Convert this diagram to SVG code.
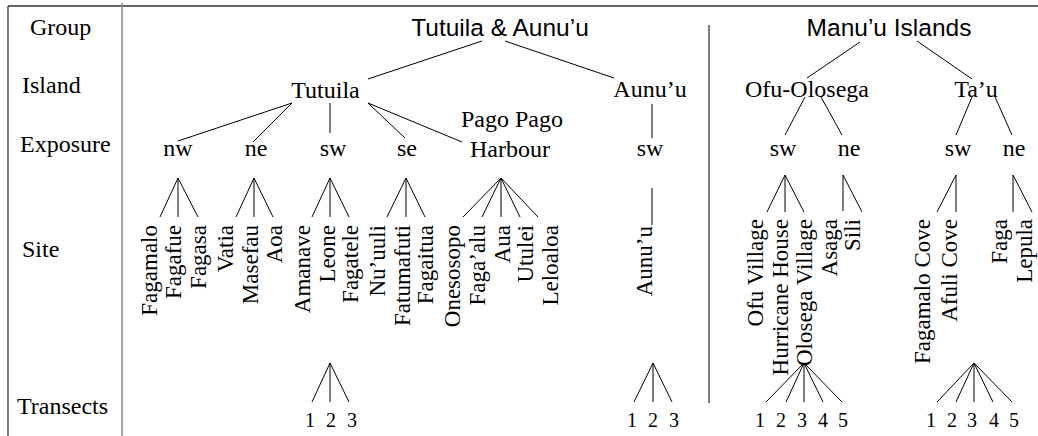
<svg xmlns="http://www.w3.org/2000/svg" width="1038" height="436" viewBox="0 0 1038 436">
<style>
.s{font-family:"Liberation Serif","Times New Roman",serif;font-size:24px;fill:#000}
.h{font-family:"Liberation Sans",Arial,sans-serif;font-size:24.5px;fill:#000;text-anchor:middle}
.n{text-anchor:middle}
.site{font-family:"Liberation Serif","Times New Roman",serif;font-size:23px;fill:#000;text-anchor:end}
.t{font-family:"Liberation Serif","Times New Roman",serif;font-size:20px;fill:#000;text-anchor:middle}
.c line{stroke:#000;stroke-width:1}
</style>
<rect width="1038" height="436" fill="#fff"/>
<g id="frame">
<line x1="8" y1="6" x2="1038" y2="6" stroke="#333" stroke-width="1.3"/>
<line x1="8" y1="6" x2="8" y2="436" stroke="#333" stroke-width="1.3"/>
<line x1="122" y1="3" x2="122" y2="436" stroke="#888" stroke-width="1.5"/>
<line x1="709" y1="25" x2="709" y2="403" stroke="#222" stroke-width="1.2"/>
</g>
<g id="row-labels" class="s">
<text x="30" y="35">Group</text>
<text x="22" y="93">Island</text>
<text x="20" y="152">Exposure</text>
<text x="22" y="257">Site</text>
<text x="17" y="414">Transects</text>
</g>
<g id="group-tutuila-aunuu"><text class="h" x="500" y="36">Tutuila &amp; Aunu’u</text></g>
<g id="group-manua"><text class="h" x="889" y="36">Manu’u Islands</text></g>
<g id="island-tutuila"><text class="s n" x="325.5" y="98">Tutuila</text></g>
<g id="island-aunuu"><text class="s n" x="650" y="97">Aunu’u</text></g>
<g id="island-ofu"><text class="s n" x="807" y="97">Ofu-Olosega</text></g>
<g id="island-tau"><text class="s n" x="976" y="97">Ta’u</text></g>
<g id="exp-nw"><text class="s n" x="178" y="156">nw</text></g>
<g id="exp-ne"><text class="s n" x="256" y="156">ne</text></g>
<g id="exp-sw"><text class="s n" x="333" y="156">sw</text></g>
<g id="exp-se"><text class="s n" x="407" y="156">se</text></g>
<g id="exp-harbour"><text class="s n" x="512" y="127">Pago Pago</text><text class="s n" x="510" y="157">Harbour</text></g>
<g id="exp-aunuu-sw"><text class="s n" x="650" y="156">sw</text></g>
<g id="exp-ofu-sw"><text class="s n" x="783" y="156">sw</text></g>
<g id="exp-ofu-ne"><text class="s n" x="849" y="156">ne</text></g>
<g id="exp-tau-sw"><text class="s n" x="958" y="156">sw</text></g>
<g id="exp-tau-ne"><text class="s n" x="1014" y="156">ne</text></g>
<g id="sites" class="site">
<text transform="translate(157,225) rotate(-90)">Fagamalo</text>
<text transform="translate(181,225) rotate(-90)">Fagafue</text>
<text transform="translate(206,225) rotate(-90)">Fagasa</text>
<text transform="translate(233,225) rotate(-90)">Vatia</text>
<text transform="translate(258,225) rotate(-90)">Masefau</text>
<text transform="translate(282,225) rotate(-90)">Aoa</text>
<text transform="translate(310,225) rotate(-90)">Amanave</text>
<text transform="translate(335,225) rotate(-90)">Leone</text>
<text transform="translate(358,225) rotate(-90)">Fagatele</text>
<text transform="translate(385,225) rotate(-90)">Nu’uuli</text>
<text transform="translate(410,225) rotate(-90)">Fatumafuti</text>
<text transform="translate(433,225) rotate(-90)">Fagaitua</text>
<text transform="translate(460,225) rotate(-90)">Onesosopo</text>
<text transform="translate(485,225) rotate(-90)">Faga’alu</text>
<text transform="translate(510,225) rotate(-90)">Aua</text>
<text transform="translate(533,225) rotate(-90)">Utulei</text>
<text transform="translate(558,225) rotate(-90)">Leloaloa</text>
<text transform="translate(652,226) rotate(-90)">Aunu’u</text>
<text transform="translate(763,219) rotate(-90)">Ofu Village</text>
<text transform="translate(788,219) rotate(-90)">Hurricane House</text>
<text transform="translate(812,219) rotate(-90)">Olosega Village</text>
<text transform="translate(837,219) rotate(-90)">Asaga</text>
<text transform="translate(860,219) rotate(-90)">Sili</text>
<text transform="translate(930,219) rotate(-90)">Fagamalo Cove</text>
<text transform="translate(957,219) rotate(-90)">Afuli Cove</text>
<text transform="translate(1007,219) rotate(-90)">Faga</text>
<text transform="translate(1032,219) rotate(-90)">Lepula</text>
</g>
<g id="transects" class="t">
<text x="310" y="427">1</text><text x="331" y="427">2</text><text x="352" y="427">3</text>
<text x="632" y="427">1</text><text x="653" y="427">2</text><text x="674" y="427">3</text>
<text x="760" y="427">1</text><text x="781" y="427">2</text><text x="802" y="427">3</text><text x="823" y="427">4</text><text x="843" y="427">5</text>
<text x="931" y="427">1</text><text x="952" y="427">2</text><text x="972" y="427">3</text><text x="994" y="427">4</text><text x="1014" y="427">5</text>
</g>
<g id="connectors" class="c">
<line x1="482" y1="41" x2="368" y2="79"/>
<line x1="505" y1="41" x2="614" y2="78"/>
<line x1="860" y1="42" x2="807" y2="78"/>
<line x1="917" y1="41" x2="972" y2="79"/>
<line x1="292" y1="103" x2="178" y2="141"/>
<line x1="292" y1="103" x2="253" y2="142"/>
<line x1="330" y1="103" x2="330" y2="133"/>
<line x1="368" y1="103" x2="405" y2="138"/>
<line x1="368" y1="103" x2="462" y2="142"/>
<line x1="652" y1="104" x2="652" y2="138"/>
<line x1="805" y1="97" x2="785" y2="135"/>
<line x1="821" y1="97" x2="842" y2="135"/>
<line x1="972" y1="97" x2="956" y2="135"/>
<line x1="995" y1="97" x2="1012" y2="135"/>
<line x1="178" y1="178" x2="160" y2="217"/><line x1="178" y1="178" x2="178" y2="217"/><line x1="178" y1="178" x2="198" y2="217"/>
<line x1="254" y1="178" x2="236" y2="217"/><line x1="254" y1="178" x2="254" y2="217"/><line x1="254" y1="178" x2="273" y2="217"/>
<line x1="330" y1="178" x2="312" y2="217"/><line x1="330" y1="178" x2="330" y2="217"/><line x1="330" y1="178" x2="349" y2="217"/>
<line x1="406" y1="178" x2="387" y2="217"/><line x1="406" y1="178" x2="406" y2="217"/><line x1="406" y1="178" x2="425" y2="217"/>
<line x1="501" y1="178" x2="463" y2="217"/><line x1="501" y1="178" x2="482" y2="217"/><line x1="501" y1="178" x2="501" y2="217"/><line x1="501" y1="178" x2="520" y2="217"/><line x1="501" y1="178" x2="538" y2="217"/>
<line x1="652" y1="188" x2="652" y2="225"/>
<line x1="785" y1="175" x2="767" y2="212"/><line x1="785" y1="175" x2="785" y2="212"/><line x1="785" y1="175" x2="804" y2="212"/>
<line x1="843" y1="175" x2="843" y2="211"/><line x1="843" y1="175" x2="862" y2="212"/>
<line x1="956" y1="175" x2="937" y2="212"/><line x1="956" y1="175" x2="956" y2="212"/>
<line x1="1013" y1="175" x2="1013" y2="212"/><line x1="1013" y1="175" x2="1032" y2="212"/>
<line x1="330" y1="363" x2="312" y2="402"/><line x1="330" y1="363" x2="330" y2="402"/><line x1="330" y1="363" x2="349" y2="402"/>
<line x1="653" y1="363" x2="634" y2="402"/><line x1="653" y1="363" x2="653" y2="402"/><line x1="653" y1="363" x2="672" y2="402"/>
<line x1="804" y1="363" x2="766" y2="402"/><line x1="804" y1="363" x2="786" y2="402"/><line x1="804" y1="363" x2="804" y2="402"/><line x1="804" y1="363" x2="823" y2="402"/><line x1="804" y1="363" x2="842" y2="402"/>
<line x1="974" y1="363" x2="937" y2="402"/><line x1="974" y1="363" x2="956" y2="402"/><line x1="974" y1="363" x2="974" y2="402"/><line x1="974" y1="363" x2="993" y2="402"/><line x1="974" y1="363" x2="1012" y2="402"/>
</g>
</svg>
